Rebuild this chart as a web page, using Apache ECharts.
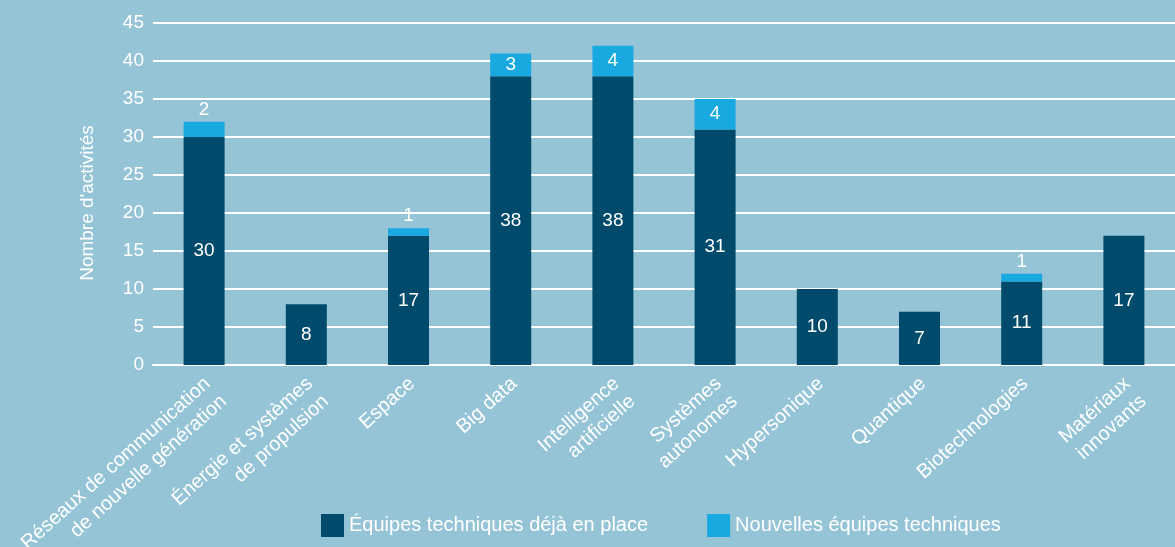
<!DOCTYPE html>
<html>
<head>
<meta charset="utf-8">
<script src="https://cdn.jsdelivr.net/npm/echarts@6/dist/echarts.min.js"></script>
<style>
  html, body { margin: 0; padding: 0; background: #96c4d7; }
  #chart { width: 1175px; height: 547px; }
</style>
</head>
<body>
<div id="chart"></div>
<script>
const categories = [
  'Réseaux de communication\nde nouvelle génération',
  'Énergie et systèmes\nde propulsion',
  'Espace',
  'Big data',
  'Intelligence\nartificielle',
  'Systèmes\nautonomes',
  'Hypersonique',
  'Quantique',
  'Biotechnologies',
  'Matériaux\ninnovants',
];
const existingTeams = [30, 8, 17, 38, 38, 31, 10, 7, 11, 17];
const newTeams = [2, 0, 1, 3, 4, 4, 0, 0, 1, 0];
const seriesNames = ['Équipes techniques déjà en place', 'Nouvelles équipes techniques'];

const chart = echarts.init(document.getElementById('chart'));
const font = 'Liberation Sans, Arial, sans-serif';

// petites valeurs : étiquette au-dessus du segment
const newData = newTeams.map((v) => ({
  value: v,
  label: { position: v < 3 ? 'top' : 'inside' },
}));

const option = {
  backgroundColor: '#96c4d7',
  textStyle: { fontFamily: font },
  legend: {
    left: 316,
    top: 509,
    itemWidth: 23,
    itemHeight: 23,
    itemGap: 59,
    icon: 'rect',
    textStyle: { color: '#fff', fontSize: 20, fontFamily: font },
    data: seriesNames,
  },
  grid: {
    left: 153, right: 0, top: 23, bottom: 182,
    outerBoundsMode: 'none',
  },
  xAxis: {
    type: 'category',
    data: categories,
    axisLine: { lineStyle: { color: '#fff', width: 2 } },
    axisTick: { show: false },
    axisLabel: {
      interval: 0,
      rotate: 42,
      margin: 3,
      verticalAlign: 'top',
      padding: [0, 6, 0, 0],
      color: '#fff',
      fontSize: 20,
      fontFamily: font,
      lineHeight: 24,
    },
  },
  yAxis: {
    type: 'value',
    min: 0,
    max: 45,
    interval: 5,
    name: "Nombre d'activités",
    nameLocation: 'middle',
    nameGap: 56,
    nameTextStyle: { color: '#fff', fontSize: 19, fontFamily: font, padding: [0, 0, 0, -18] },
    axisLine: { show: false },
    axisTick: { show: false },
    axisLabel: { color: '#fff', fontSize: 19, fontFamily: font, margin: 9 },
    splitLine: { lineStyle: { color: '#fff', width: 2 } },
  },
  series: [
    {
      name: seriesNames[0],
      type: 'bar',
      stack: 'total',
      barWidth: 41,
      itemStyle: { color: '#004b6b' },
      label: {
        show: true,
        position: 'inside',
        color: '#fff',
        fontSize: 19,
        fontFamily: font,
      },
      data: existingTeams,
    },
    {
      name: seriesNames[1],
      type: 'bar',
      stack: 'total',
      barWidth: 41,
      itemStyle: { color: '#19a9e1' },
      label: {
        show: true,
        color: '#fff',
        fontSize: 19,
        fontFamily: font,
        distance: 3,
        formatter: (p) => (p.value > 0 ? p.value : ''),
      },
      data: newData,
    },
  ],
};
chart.setOption(option);
</script>
</body>
</html>
